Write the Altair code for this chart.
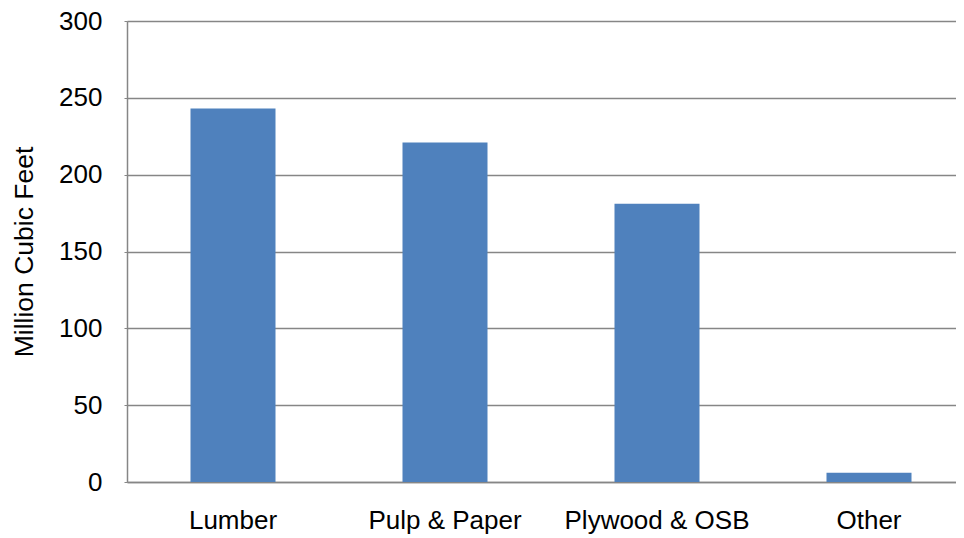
import altair as alt
import pandas as pd

categories = ["Lumber", "Pulp & Paper", "Plywood & OSB", "Other"]
values = [243, 221, 181, 6]

df = pd.DataFrame({"category": categories, "value": values})

chart = alt.Chart(df).mark_bar(color="#4F81BD").encode(
    x=alt.X("category:N", sort=categories, title=None,
            scale=alt.Scale(range=[0, 848], paddingInner=0.599, paddingOuter=0.2995),
            axis=alt.Axis(labelAngle=0, labelFont="Liberation Sans", labelFontSize=26,
                          labelColor="#000000", labelPadding=25, ticks=False, labelLimit=0,
                          domainColor="#868686", domainWidth=1.5, grid=False)),
    y=alt.Y("value:Q", title="Million Cubic Feet",
            scale=alt.Scale(domain=[0, 300], nice=False),
            axis=alt.Axis(values=[0, 50, 100, 150, 200, 250, 300],
                          labelFont="Liberation Sans", labelFontSize=26, labelColor="#000000",
                          labelPadding=22, tickSize=3, tickColor="#868686",
                          domainColor="#868686", domainWidth=1.5,
                          gridColor="#868686", gridWidth=1.3,
                          titleFont="Liberation Sans", titleFontSize=26.5, titleFontWeight="normal",
                          titleColor="#000000", titlePadding=20)),
).properties(
    width=829,
    height=461,
    autosize=alt.AutoSizeParams(type="none"),
    padding={"left": 119, "top": 13, "right": 0, "bottom": 52},
).configure_view(stroke=None).configure(background="#ffffff")

chart.save("out.html", embed_options={"renderer": "svg", "actions": False})
